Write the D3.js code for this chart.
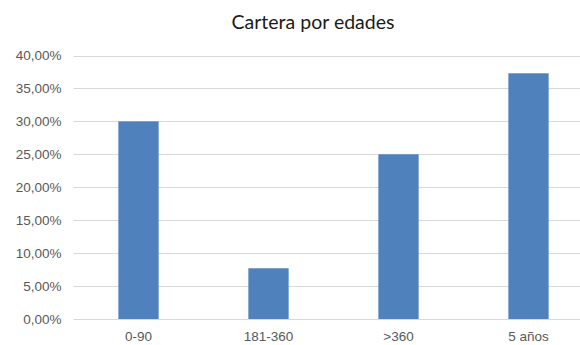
<!DOCTYPE html>
<html>
<head>
<meta charset="utf-8">
<script src="https://cdn.jsdelivr.net/npm/d3@7"></script>
<style>
  body { margin: 0; background: #fff; }
  svg { display: block; font-family: Lato, "Open Sans", sans-serif; }
  .title { font-size: 19.5px; fill: #1a1a1a; }
  .tick text { font-size: 13.5px; fill: #595959; }
  .grid line { stroke: #d9d9d9; stroke-width: 1; }
  .bar { fill: #4f81bd; }
</style>
</head>
<body>
<div id="chart"></div>
<script>
  // data
  const categories = ["0-90", "181-360", ">360", "5 años"];
  const values = [0.30, 0.077, 0.25, 0.373];
  const yTicks = [0, 0.05, 0.10, 0.15, 0.20, 0.25, 0.30, 0.35, 0.40];

  const width = 580, height = 345;
  const plot = { left: 73.5, right: 593.5, top: 55.5, bottom: 319 };

  const es = d3.formatLocale({ decimal: ",", thousands: ".", grouping: [3], currency: ["", " €"] });
  const pct = es.format(".2%");

  const svg = d3.select("#chart").append("svg")
    .attr("width", width).attr("height", height);

  const x = d3.scaleBand()
    .domain(categories)
    .range([plot.left, plot.right])
    .paddingInner(0.69)
    .paddingOuter(0.345);

  const y = d3.scaleLinear()
    .domain([0, 0.40])
    .range([plot.bottom, plot.top]);

  // gridlines
  svg.append("g").attr("class", "grid")
    .selectAll("line")
    .data(yTicks)
    .join("line")
      .attr("x1", plot.left).attr("x2", plot.right)
      .attr("y1", d => Math.round(y(d)) + 0.5)
      .attr("y2", d => Math.round(y(d)) + 0.5);

  // y axis labels
  const yAxis = svg.append("g")
    .attr("transform", `translate(${plot.left - 12},0)`)
    .call(d3.axisLeft(y).tickValues(yTicks).tickFormat(pct).tickSize(0).tickPadding(0));
  yAxis.select(".domain").remove();

  // bars
  svg.append("g")
    .selectAll("rect")
    .data(values)
    .join("rect")
      .attr("class", "bar")
      .attr("x", (d, i) => x(categories[i]))
      .attr("width", x.bandwidth())
      .attr("y", d => y(d))
      .attr("height", d => y(0) - y(d));

  // x axis labels
  const xAxis = svg.append("g")
    .attr("transform", `translate(0,${plot.bottom})`)
    .call(d3.axisBottom(x).tickSize(0).tickPadding(12));
  xAxis.select(".domain").remove();

  // title
  svg.append("text")
    .attr("class", "title")
    .attr("x", 313)
    .attr("y", 29)
    .attr("text-anchor", "middle")
    .text("Cartera por edades");
</script>
</body>
</html>
